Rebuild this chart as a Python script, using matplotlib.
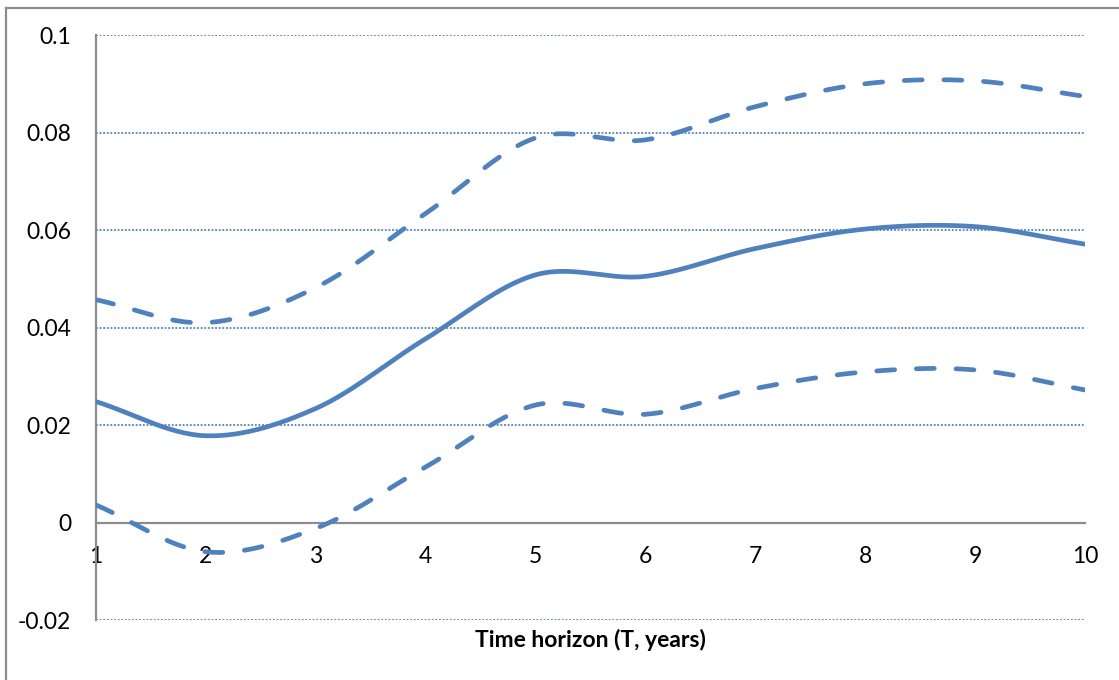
import matplotlib.pyplot as plt
from matplotlib.lines import Line2D
import numpy as np

YEARS = [1, 2, 3, 4, 5, 6, 7, 8, 9, 10]
ESTIMATE = [0.0248, 0.0178, 0.0234, 0.0377, 0.0508, 0.0505, 0.0562, 0.0602, 0.0607, 0.0571]
UPPER = [0.0457, 0.0410, 0.0482, 0.0634, 0.0789, 0.0785, 0.0853, 0.0900, 0.0906, 0.0874]
LOWER = [0.0036, -0.0060, -0.0012, 0.0114, 0.0241, 0.0222, 0.0275, 0.0309, 0.0313, 0.0272]
Y_TICKS = [-0.02, 0, 0.02, 0.04, 0.06, 0.08, 0.1]
Y_TICK_LABELS = ['-0.02', '0', '0.02', '0.04', '0.06', '0.08', '0.1']
X_LABEL = 'Time horizon (T, years)'

BLUE = '#4F81BD'
GREY = '#8C8C8C'


def smooth(x, y, n=30):
    # catmull-rom curve through the points, like Excel's "smoothed line"
    x = np.asarray(x, dtype=float)
    y = np.asarray(y, dtype=float)
    px = np.concatenate([[2 * x[0] - x[1]], x, [2 * x[-1] - x[-2]]])
    py = np.concatenate([[2 * y[0] - y[1]], y, [2 * y[-1] - y[-2]]])
    xs, ys = [], []
    t = np.linspace(0, 1, n, endpoint=False)
    for i in range(1, len(px) - 2):
        for p, out in ((px, xs), (py, ys)):
            p0, p1, p2, p3 = p[i - 1], p[i], p[i + 1], p[i + 2]
            out.extend(0.5 * (2 * p1 + (-p0 + p2) * t
                              + (2 * p0 - 5 * p1 + 4 * p2 - p3) * t ** 2
                              + (-p0 + 3 * p1 - 3 * p2 + p3) * t ** 3))
    xs.append(x[-1])
    ys.append(y[-1])
    return np.array(xs), np.array(ys)


plt.rcParams['font.family'] = ['Lato', 'DejaVu Sans']

fig = plt.figure(figsize=(11.19, 6.8), dpi=100)
ax = fig.add_axes([0.0858, 0.0882, 0.8838, 0.8603])

for yt in Y_TICKS:
    if yt != 0:
        ax.axhline(yt, color=BLUE, linewidth=1.3, linestyle=(0, (1, 1)), zorder=1)

sx, sy = smooth(YEARS, ESTIMATE)
ax.plot(sx, sy, color=BLUE, linewidth=3.4, solid_capstyle='round', zorder=3)
for band in (UPPER, LOWER):
    bx, by = smooth(YEARS, band)
    ax.plot(bx, by, color=BLUE, linewidth=3.4, linestyle=(0, (3.8, 4.6)),
            dash_capstyle='round', zorder=3)

ax.set_xlim(1, 10)
ax.set_ylim(-0.02, 0.1)
ax.set_xticks(YEARS)
ax.set_xticklabels([str(v) for v in YEARS])
ax.set_yticks(Y_TICKS)
ax.set_yticklabels(Y_TICK_LABELS)
ax.tick_params(axis='both', length=0, labelsize=16.5)
ax.tick_params(axis='y', pad=18)
ax.tick_params(axis='x', pad=17)

ax.spines['top'].set_visible(False)
ax.spines['right'].set_visible(False)
ax.spines['bottom'].set_position(('data', 0))
ax.spines['bottom'].set_color(GREY)
ax.spines['bottom'].set_linewidth(1.6)
ax.spines['bottom'].set_zorder(2)
ax.spines['left'].set_color(GREY)
ax.spines['left'].set_linewidth(1.6)

ax.set_xlabel(X_LABEL, fontsize=16.5, fontweight='bold')
ax.xaxis.set_label_coords(0.5, -0.016)

# chart frame
fig.add_artist(Line2D([6 / 1119, 6 / 1119], [0, 1 - 8 / 680], color=GREY, linewidth=1.6,
                      transform=fig.transFigure))
fig.add_artist(Line2D([6 / 1119, 1], [1 - 8 / 680, 1 - 8 / 680], color=GREY, linewidth=1.6,
                      transform=fig.transFigure))

fig.savefig('out.png', dpi=100)
